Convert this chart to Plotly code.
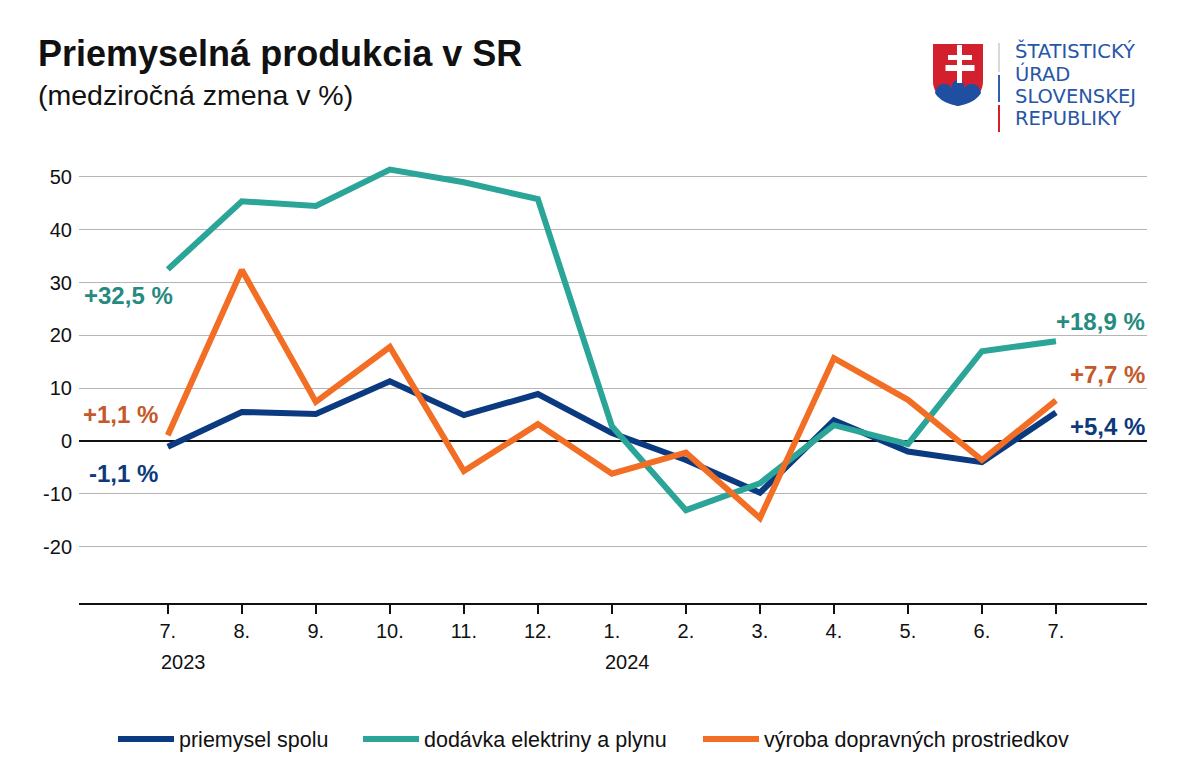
import plotly.graph_objects as go

# ---- data ----
months = ["7.", "8.", "9.", "10.", "11.", "12.", "1.", "2.", "3.", "4.", "5.", "6.", "7."]
years = ["2023", "2024"]
priemysel = [-1.1, 5.5, 5.1, 11.3, 4.9, 8.9, 1.5, -3.6, -9.8, 3.9, -2.0, -4.0, 5.4]
elektrina = [32.5, 45.4, 44.5, 51.4, 49.0, 45.8, 2.8, -13.1, -8.0, 3.0, -0.6, 17.0, 18.9]
doprava = [1.1, 32.4, 7.4, 17.8, -5.7, 3.2, -6.2, -2.2, -14.6, 15.7, 7.8, -3.6, 7.7]
names = ["priemysel spolu", "dodávka elektriny a plynu", "výroba dopravných prostriedkov"]
labels_start = ["-1,1 %", "+32,5 %", "+1,1 %"]
labels_end = ["+5,4 %", "+18,9 %", "+7,7 %"]
logo_lines = ["ŠTATISTICKÝ", "ÚRAD", "SLOVENSKEJ", "REPUBLIKY"]

C_NAVY = "#0b3a80"
C_TEAL = "#2ba598"
C_ORANGE = "#f36e25"
LBL = ["#0d3a7d", "#268a80", "#c4592b"]
FONT = "Liberation Sans, Arial, sans-serif"

OFF = 8  # page body margin
W, H = 1185 - OFF, 783 - OFF
# plot area in screenshot pixels: x 79..1147, y 135..603
L, R, T, B = 79 - OFF, 1185 - 1147, 135 - OFF, 783 - 603
PW, PH = W - L - R, H - T - B


def px(x):
    return (x - OFF - L) / PW


def py(y):
    return (T + PH - (y - OFF)) / PH


idx = list(range(len(months)))
legend_ids = ["legend", "legend2", "legend3"]
legend_x = [113, 358, 698]  # left edge of each legend entry (screen px)

fig = go.Figure()
for name, vals, col, lg in zip(names, [priemysel, elektrina, doprava], [C_NAVY, C_TEAL, C_ORANGE], legend_ids):
    fig.add_trace(go.Scatter(x=idx, y=vals, mode="lines", name=name, legend=lg,
                             line=dict(color=col, width=6)))

annotations = []
# title
annotations.append(dict(text="<b>Priemyselná produkcia v SR</b>", xref="paper", yref="paper",
                        x=px(36), y=py(54), xanchor="left", yanchor="middle", showarrow=False,
                        font=dict(size=36, color="#111111", family=FONT)))
annotations.append(dict(text="(medziročná zmena v %)", xref="paper", yref="paper",
                        x=px(36), y=py(95), xanchor="left", yanchor="middle", showarrow=False,
                        font=dict(size=28.5, color="#111111", family=FONT)))

# years
for xi, yr in zip([0, 6], years):
    annotations.append(dict(text=yr, xref="x", yref="paper", x=xi, y=py(662), xanchor="left",
                            yanchor="middle", xshift=-9, showarrow=False,
                            font=dict(size=20, color="#111111", family=FONT)))

# value labels at start
start_pos = [(-6.1, -8), (27.5, 7), (5.1, -8)]
for t, (yv, sh), col in zip(labels_start, start_pos, LBL):
    annotations.append(dict(text="<b>%s</b>" % t, xref="x", yref="y", x=0, y=yv, xanchor="right",
                            yanchor="middle", xshift=sh, showarrow=False,
                            font=dict(size=24, color=col, family=FONT)))
# value labels at end
for t, yv, col in zip(labels_end, [2.8, 22.7, 12.5], LBL):
    annotations.append(dict(text="<b>%s</b>" % t, xref="paper", yref="y", x=1, y=yv, xanchor="right",
                            yanchor="middle", showarrow=False,
                            font=dict(size=24, color=col, family=FONT)))

# logo text
for i, line in enumerate(logo_lines):
    annotations.append(dict(text=line, xref="paper", yref="paper", x=px(1013), y=py(51.5 + i * 22.4),
                            xanchor="left", yanchor="middle", showarrow=False,
                            font=dict(size=19.5, color="#2755a8", family="DejaVu Sans, sans-serif")))

shapes = []


def path(points, close=True):
    s = ""
    for i, (a, b) in enumerate(points):
        s += ("M" if i == 0 else "L") + " %.5f %.5f " % (px(a), py(b))
    return s + ("Z" if close else "")


def bez(p0, p1, p2, n=16):
    out = []
    for k in range(1, n + 1):
        t = k / n
        out.append(((1 - t) ** 2 * p0[0] + 2 * (1 - t) * t * p1[0] + t ** 2 * p2[0],
                    (1 - t) ** 2 * p0[1] + 2 * (1 - t) * t * p1[1] + t ** 2 * p2[1]))
    return out


shield = [(933, 44), (983, 44), (983, 81)]
shield += bez((983, 81), (983, 99), (958, 106))
shield += bez((958, 106), (933, 99), (933, 81))
shapes.append(dict(type="path", xref="paper", yref="paper", path=path(shield),
                   fillcolor="#d3202f", line=dict(width=0), layer="above"))

# blue hills (three bumps) following the shield's lower edge
hills = [(935, 93)]
hills += bez((935, 93), (937, 84), (944, 84), 8)
hills += bez((944, 84), (950, 84), (951.5, 88.5), 6)
hills += bez((951.5, 88.5), (952, 80), (958, 80), 8)
hills += bez((958, 80), (964, 80), (964.5, 88.5), 8)
hills += bez((964.5, 88.5), (966, 84), (972, 84), 6)
hills += bez((972, 84), (979, 84), (981, 93), 8)
hills += bez((981, 93), (975, 103), (958, 106), 10)
hills += bez((958, 106), (941, 103), (935, 93), 10)
shapes.append(dict(type="path", xref="paper", yref="paper", path=path(hills),
                   fillcolor="#1f4fa0", line=dict(width=0), layer="above"))

# white double cross
for (x0, y0, x1, y1) in [(957, 45, 962, 83), (948, 55, 972, 60), (945.5, 65, 974.5, 71)]:
    shapes.append(dict(type="rect", xref="paper", yref="paper", x0=px(x0), x1=px(x1), y0=py(y1),
                       y1=py(y0), fillcolor="white", line=dict(width=0), layer="above"))

# vertical divider
for (y0, y1, col) in [(43, 72, "#d8d8d8"), (75, 102, "#2d5fb0"), (105, 132, "#d3202f")]:
    shapes.append(dict(type="line", xref="paper", yref="paper", x0=px(999), x1=px(999),
                       y0=py(y0), y1=py(y1), line=dict(color=col, width=2), layer="above"))

legend_common = dict(orientation="h", yanchor="middle", y=py(739), xanchor="left",
                     font=dict(size=21.5, family=FONT, color="#111111"), itemwidth=56,
                     bgcolor="rgba(0,0,0,0)")

fig.update_layout(
    width=W, height=H,
    margin=dict(l=L, r=R, t=T, b=B, autoexpand=False),
    paper_bgcolor="white", plot_bgcolor="white",
    font=dict(family=FONT, size=20, color="#111111"),
    showlegend=True,
    legend=dict(legend_common, x=px(legend_x[0])),
    legend2=dict(legend_common, x=px(legend_x[1])),
    legend3=dict(legend_common, x=px(legend_x[2])),
    annotations=annotations,
    shapes=shapes,
    xaxis=dict(range=[-1.2, 13.23], tickmode="array", tickvals=idx, ticktext=months,
               showgrid=False, zeroline=False, showline=True, linecolor="#111111", linewidth=1.5,
               ticks="outside", ticklen=9, tickcolor="#111111", tickwidth=1.5,
               tickfont=dict(size=20, family=FONT, color="#111111"), fixedrange=True),
    yaxis=dict(range=[-30.68, 57.95], tickmode="array", tickvals=[-20, -10, 0, 10, 20, 30, 40, 50],
               ticktext=["-20", "-10", "0", "10", "20", "30", "40", "50"],
               showgrid=True, gridcolor="#b5b5b5", gridwidth=1,
               zeroline=True, zerolinecolor="#111111", zerolinewidth=1.5,
               showline=False, ticks="", ticklabelstandoff=6,
               tickfont=dict(size=20, family=FONT, color="#111111"), fixedrange=True),
)

fig.write_html("out.html")
